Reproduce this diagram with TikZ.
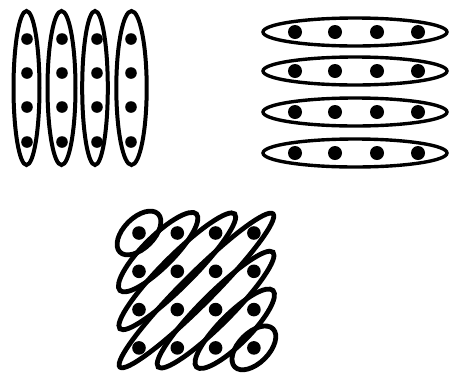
\documentclass[tikz,border=0pt]{standalone}
\usetikzlibrary{positioning}
\tikzset{
  % filled grid points and the loops drawn round them
  gdot/.style  = {circle, fill=black, inner sep=0pt, minimum size=#1},
  loop/.style  = {draw=black, line width=#1},
}

\begin{document}
\begin{tikzpicture}[x=0.5pt, y=-0.5pt]
  \useasboundingbox (0,0) rectangle (450,376);
  % columns: one loop per column
  \foreach \cx/\rx in {26.5/6.5, 61.5/7, 95/6.4, 131.5/7.6}
    \draw[loop=2pt] (\cx,88) ellipse [x radius=\rx pt, y radius=38.5pt];
  \foreach \x [count=\i] in {27,62,97,131}
    \foreach \y [count=\j] in {39,73,107,142}
      \node[gdot=5.8pt] (col-\i-\j) at (\x,\y) {};
  % rows: one loop per row
  \foreach \cy in {32,71,112,153}
    \draw[loop=1.7pt] (355,\cy) ellipse [x radius=46pt, y radius=7pt];
  \foreach \x [count=\i] in {295,335,377,418}
    \foreach \y [count=\j] in {32,71,112,153}
      \node[gdot=7pt] (row-\i-\j) at (\x,\y) {};
  % diagonals: loops of 1,2,3,4,3,2,1 points
  \def\gap{38.3}
  \foreach \k in {0,...,6} {
    \pgfmathsetmacro\nn{min(\k,6-\k)}
    \pgfmathsetmacro\cx{139+\k/2*\gap}
    \pgfmathsetmacro\cy{233+\k/2*\gap}
    \pgfmathsetmacro\len{\nn*13.55+13.5}
    \draw[loop=2.4pt, rotate around={45:(\cx,\cy)}]
      (\cx,\cy) ellipse [x radius=\len pt, y radius=7.6pt];
  }
  \foreach \i in {0,...,3}
    \foreach \j in {0,...,3}
      \node[gdot=6.8pt] (diag-\i-\j) at (139+\i*\gap, 233+\j*\gap) {};
\end{tikzpicture}
\end{document}
